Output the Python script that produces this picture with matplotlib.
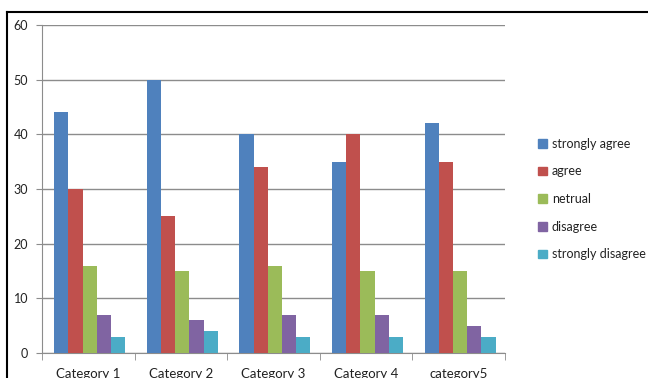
import numpy as np
import matplotlib
matplotlib.use("Agg")
import matplotlib.pyplot as plt
from matplotlib.patches import Rectangle
from matplotlib.lines import Line2D

categories = ["Category 1", "Category 2", "Category 3", "Category 4", "category5"]
series = ["strongly agree", "agree", "netrual", "disagree", "strongly disagree"]
strongly_agree = [44, 50, 40, 35, 42]
agree = [30, 25, 34, 40, 35]
netrual = [16, 15, 16, 15, 15]
disagree = [7, 6, 7, 7, 5]
strongly_disagree = [3, 4, 3, 3, 3]
values = [strongly_agree, agree, netrual, disagree, strongly_disagree]
colors = ["#4F81BD", "#C0504D", "#9BBB59", "#8064A2", "#4BACC6"]

plt.rcParams["font.family"] = ["Lato", "DejaVu Sans"]
W, H = 648, 378
fig = plt.figure(figsize=(W / 100, H / 100), dpi=100)
ax = fig.add_axes([42 / W, 1 - 353 / H, (505 - 42) / W, (353 - 25) / H])

x = np.arange(len(categories))
bw = 0.153
for i, (name, vals, c) in enumerate(zip(series, values, colors)):
    ax.bar(x + (i - 2) * bw + 0.015, vals, bw, color=c, label=name, zorder=3)

ax.set_xlim(-0.5, len(categories) - 0.5)
ax.set_ylim(0, 60)
ax.set_yticks(range(0, 61, 10))
ax.yaxis.grid(True, color="#8c8c8c", lw=1, zorder=0)
ax.tick_params(axis="y", length=4, color="#8c8c8c", labelsize=9, labelcolor="#222222", pad=6)
ax.set_xticks(x)
ax.set_xticklabels(categories, fontsize=9.5, color="#222222")
ax.tick_params(axis="x", length=0, pad=11)
ax.set_xticks(np.arange(-0.5, len(categories)), minor=True)
ax.tick_params(axis="x", which="minor", length=5, color="#8c8c8c")
for s in ["top", "right"]:
    ax.spines[s].set_visible(False)
for s in ["left", "bottom"]:
    ax.spines[s].set_color("#8c8c8c")

# legend
handles = [Rectangle((0, 0), 1, 1, color=c) for c in colors]
fig.legend(handles, series, loc="center left", bbox_to_anchor=(527 / W, 1 - 199 / H),
           frameon=False, fontsize=9, handlelength=0.7, handleheight=0.7,
           handletextpad=0.4, labelspacing=1.25, labelcolor="#222222")

# outer border (screenshot frame)
fig.add_artist(Line2D([7 / W, 1], [1 - 11.5 / H] * 2, color="black", lw=1.5))
fig.add_artist(Line2D([7 / W] * 2, [0, 1 - 11.5 / H], color="black", lw=1.5))

fig.savefig("out.png", dpi=100)
